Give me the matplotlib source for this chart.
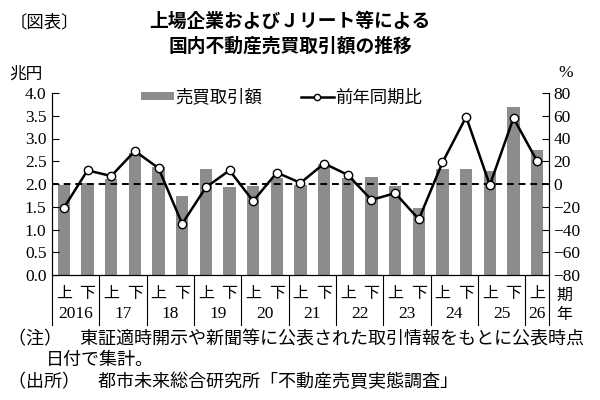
import matplotlib
matplotlib.use("Agg")
import matplotlib.pyplot as plt
from matplotlib.patches import Patch
from matplotlib.lines import Line2D
import matplotlib.transforms as mtransforms

plt.rcParams['font.family'] = ['Liberation Serif', 'Noto Sans CJK JP']

# data (half-year periods, 2016 H1 .. 2026 H1)
halves = ['上', '下'] * 10 + ['上']
years = ['2016', '17', '18', '19', '20', '21', '22', '23', '24', '25', '26']
amount = [1.98, 2.03, 2.11, 2.69, 2.38, 1.74, 2.32, 1.93, 1.96, 2.13, 1.98,
          2.45, 2.13, 2.15, 1.96, 1.47, 2.32, 2.34, 2.29, 3.70, 2.75]
yoy = [-21, 12, 7, 29, 14, -35, -3, 12, -15, 10, 1,
       18, 8, -14, -8, -31, 19, 59, -1, 58, 20]

bar_color = '#8c8c8c'
jp = ['Noto Sans CJK JP']

fig = plt.figure(figsize=(6, 4), dpi=100)
ax = fig.add_axes([52/600, 125/400, 497/600, 182/400])
ax2 = ax.twinx()

x = list(range(len(amount)))
ax.bar(x, amount, width=0.52, color=bar_color, zorder=1)
ax.axhline(2.0, color='black', linestyle=(0, (3.5, 2.5)), linewidth=1.4, zorder=2)
ax2.plot(x, yoy, color='black', linewidth=1.8, marker='o', markersize=6,
         markerfacecolor='white', markeredgecolor='black', markeredgewidth=1.0, zorder=3)

ax.set_xlim(-0.5, len(amount) - 0.5)
ax.set_ylim(0, 4.0)
ax2.set_ylim(-80, 80)
ax.set_yticks([i * 0.5 for i in range(9)])
ax.set_yticklabels([f'{i * 0.5:.1f}' for i in range(9)])
ax2.set_yticks(range(-80, 81, 20))
ax.set_xticks([])

for a in (ax, ax2):
    a.spines['top'].set_visible(False)
    a.tick_params(axis='y', direction='in', length=5, width=0.8, labelsize=12.5, pad=3)
    for s in a.spines.values():
        s.set_linewidth(0.8)
ax.tick_params(axis='y', pad=4)

# period table under the axis
trans = mtransforms.blended_transform_factory(ax.transData, ax.transAxes)
bounds = [-0.5] + [1.5 + 2 * i for i in range(10)] + [len(amount) - 0.5]
for b in bounds:
    ax.plot([b, b], [0, -0.275], transform=trans, color='black', linewidth=0.8, clip_on=False)
for i, h in enumerate(halves):
    ax.text(i, -0.1, h, transform=trans, ha='center', va='center', fontsize=11.5, family=jp)
for i, y in enumerate(years):
    ax.text((bounds[i] + bounds[i + 1]) / 2, -0.212, y, transform=trans,
            ha='center', va='center', fontsize=12.5)

fig.text(564/600, 1 - 295/400, '期', ha='center', va='center', fontsize=11.5, family=jp)
fig.text(564/600, 1 - 315/400, '年', ha='center', va='center', fontsize=11.5, family=jp)

# axis unit labels
fig.text(26/600, 1 - 74/400, '兆円', ha='center', va='center', fontsize=12, family=jp)
fig.text(566/600, 1 - 73/400, '%', ha='center', va='center', fontsize=12.5)

# legend
handles = [Patch(facecolor=bar_color, edgecolor='none'),
           Line2D([0], [0], color='black', linewidth=1.8, marker='o', markersize=4.5,
                  markerfacecolor='white', markeredgecolor='black', markeredgewidth=1.0)]
ax2.legend(handles, ['売買取引額', '前年同期比'], ncol=2, loc='center left',
           bbox_to_anchor=(0.165, 0.975), frameon=False, handlelength=1.9, handleheight=0.35,
           handletextpad=0.1, columnspacing=2.2, prop={'family': jp, 'size': 12.5},
           borderaxespad=0)

# titles and notes
fig.text(10/600, 1 - 22/400, '〔図表〕', ha='left', va='center', fontsize=12.5, family=jp)
fig.text(290/600, 1 - 21/400, '上場企業およびＪリート等による', ha='center', va='center',
         fontsize=13.5, fontweight='bold', family=jp)
fig.text(290/600, 1 - 46/400, '国内不動産売買取引額の推移', ha='center', va='center',
         fontsize=13.5, fontweight='bold', family=jp)

fig.text(8/600, 1 - 339/400, '（注）　東証適時開示や新聞等に公表された取引情報をもとに公表時点',
         ha='left', va='center', fontsize=13, family=jp)
fig.text(46/600, 1 - 360/400, '日付で集計。', ha='left', va='center', fontsize=13, family=jp)
fig.text(8/600, 1 - 382/400, '（出所）　都市未来総合研究所「不動産売買実態調査」',
         ha='left', va='center', fontsize=13, family=jp)

fig.savefig('out.png', dpi=100)
